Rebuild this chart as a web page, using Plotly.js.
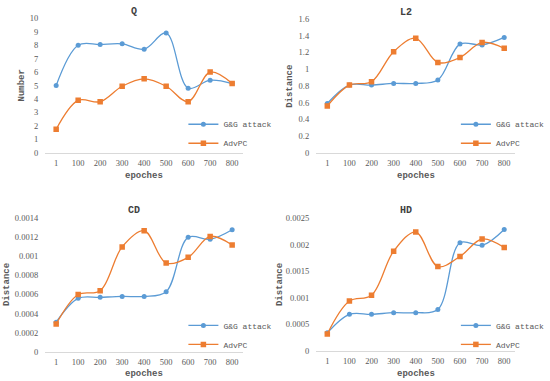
<!DOCTYPE html>
<html><head><meta charset="utf-8">
<script src="https://cdn.plot.ly/plotly-3.0.1.min.js"></script>
<style>body{margin:0;background:#fff}</style>
</head><body><div id="chart" style="width:550px;height:381px"></div>
<script>
const epochs = ['1','100','200','300','400','500','600','700','800'];
const seriesNames = ['G&G attack', 'AdvPC'];

const qGG   = [5.0, 8.0, 8.05, 8.1, 7.7, 8.9, 4.8, 5.4, 5.15];
const qAdv  = [1.75, 3.9, 3.8, 4.95, 5.5, 4.95, 3.8, 6.0, 5.15];
const l2GG  = [0.59, 0.81, 0.81, 0.83, 0.83, 0.87, 1.30, 1.29, 1.38];
const l2Adv = [0.56, 0.81, 0.85, 1.21, 1.37, 1.08, 1.14, 1.32, 1.25];
const cdGG  = [0.00031, 0.00056, 0.00057, 0.00058, 0.00058, 0.00063, 0.0012, 0.00118, 0.00128];
const cdAdv = [0.00029, 0.0006, 0.00064, 0.0011, 0.00127, 0.00093, 0.00099, 0.00121, 0.00112];
const hdGG  = [0.00034, 0.00069, 0.00069, 0.00072, 0.00072, 0.00078, 0.00204, 0.00199, 0.00229];
const hdAdv = [0.00032, 0.00094, 0.00105, 0.00188, 0.00224, 0.00159, 0.00178, 0.00211, 0.00195];

const qTicks = [0,1,2,3,4,5,6,7,8,9,10];
const qTickText = ['0','1','2','3','4','5','6','7','8','9','10'];
const l2Ticks = [0,0.2,0.4,0.6,0.8,1,1.2,1.4,1.6];
const l2TickText = ['0','0.2','0.4','0.6','0.8','1','1.2','1.4','1.6'];
const cdTicks = [0,0.0002,0.0004,0.0006,0.0008,0.001,0.0012,0.0014];
const cdTickText = ['0','0.0002','0.0004','0.0006','0.0008','0.001','0.0012','0.0014'];
const hdTicks = [0,0.0005,0.001,0.0015,0.002,0.0025];
const hdTickText = ['0','0.0005','0.001','0.0015','0.002','0.0025'];

const panelTitles = ['Q','L2','CD','HD'];
const yTitles = ['Number','Distance','Distance','Distance'];
const xTitle = 'epoches';

const BLUE = '#5B9BD5', ORANGE = '#ED7D31';
const SERIF = "Liberation Serif";
const MONO = "Liberation Mono";
const TICKFONT = {family:SERIF, size:8.5, color:'#595959'};

const panels = [
  {gg:qGG, adv:qAdv, ax:'', leg:'legend'},
  {gg:l2GG, adv:l2Adv, ax:'2', leg:'legend2'},
  {gg:cdGG, adv:cdAdv, ax:'3', leg:'legend3'},
  {gg:hdGG, adv:hdAdv, ax:'4', leg:'legend4'}
];
const traces = [];
panels.forEach(p => {
  traces.push({x:epochs, y:p.gg, name:seriesNames[0], type:'scatter', mode:'lines+markers',
    xaxis:'x'+p.ax, yaxis:'y'+p.ax, legend:p.leg,
    line:{color:BLUE, width:1.3, shape:'spline', smoothing:1},
    marker:{color:BLUE, size:5, symbol:'circle'}});
  traces.push({x:epochs, y:p.adv, name:seriesNames[1], type:'scatter', mode:'lines+markers',
    xaxis:'x'+p.ax, yaxis:'y'+p.ax, legend:p.leg,
    line:{color:ORANGE, width:1.3, shape:'spline', smoothing:1},
    marker:{color:ORANGE, size:5.5, symbol:'square'}});
});

function xax(dom, anchor){
  return {domain:dom, anchor:anchor, type:'category', range:[-0.5,8.5], showline:true,
    linecolor:'#D9D9D9', linewidth:1, showgrid:false, zeroline:false, ticks:'',
    tickfont:TICKFONT, ticklabelstandoff:2, fixedrange:true};
}
function yax(dom, anchor, range, tv, tt){
  return {domain:dom, anchor:anchor, range:range, tickvals:tv, ticktext:tt, showline:false,
    showgrid:false, zeroline:false, ticks:'', tickfont:TICKFONT, ticklabelstandoff:6, fixedrange:true};
}
function leg(x, y){
  return {x:x, y:y, xanchor:'left', yanchor:'top', bgcolor:'rgba(0,0,0,0)',
    font:{family:MONO, size:8, color:'#595959'}, itemwidth:30, tracegroupgap:0};
}
const L = 0.0867, R = 0.4667, L2x = 0.607, R2x = 0.989;
const layout = {
  width:550, height:381, margin:{l:0,r:0,t:0,b:0},
  paper_bgcolor:'#fff', plot_bgcolor:'rgba(0,0,0,0)', showlegend:true,
  xaxis: xax([L,R],'y'),
  yaxis: yax([0.599,0.952],'x',[0,10],qTicks,qTickText),
  xaxis2: xax([L2x,R2x],'y2'),
  yaxis2: yax([0.599,0.950],'x2',[0,1.6],l2Ticks,l2TickText),
  xaxis3: xax([L,R],'y3'),
  yaxis3: yax([0.077,0.427],'x3',[0,0.0014],cdTicks,cdTickText),
  xaxis4: xax([L2x,R2x],'y4'),
  yaxis4: yax([0.079,0.427],'x4',[0,0.0025],hdTicks,hdTickText),
  legend: leg(0.352, 0.712),
  legend2: leg(0.875, 0.712),
  legend3: leg(0.352, 0.184),
  legend4: leg(0.875, 0.184),
  annotations: []
};
const titlePos = [[141.7,11.7],[429,12.3],[141.7,210.7],[429,210.7]];
const xtPos = [[151.7,175.5],[439.3,175.5],[151.7,373.5],[439.3,373.5]];
const ytPos = [[22.7,86],[306,86],[7.5,285],[295.7,285]];
for (let i=0;i<4;i++){
  layout.annotations.push({text:'<b>'+panelTitles[i]+'</b>', xref:'paper', yref:'paper',
    x:titlePos[i][0]/550, y:1-titlePos[i][1]/381, xanchor:'center', yanchor:'middle', showarrow:false,
    font:{family:MONO, size:10, color:'#404040'}});
  layout.annotations.push({text:'<b>'+xTitle+'</b>', xref:'paper', yref:'paper',
    x:xtPos[i][0]/550, y:1-xtPos[i][1]/381, xanchor:'center', yanchor:'middle', showarrow:false,
    font:{family:MONO, size:9, color:'#595959'}});
  layout.annotations.push({text:'<b>'+yTitles[i]+'</b>', xref:'paper', yref:'paper', textangle:-90,
    x:ytPos[i][0]/550, y:1-ytPos[i][1]/381, xanchor:'center', yanchor:'middle', showarrow:false,
    font:{family:MONO, size:9, color:'#595959'}});
}
Plotly.newPlot('chart', traces, layout, {staticPlot:true, displayModeBar:false});
</script></body></html>
